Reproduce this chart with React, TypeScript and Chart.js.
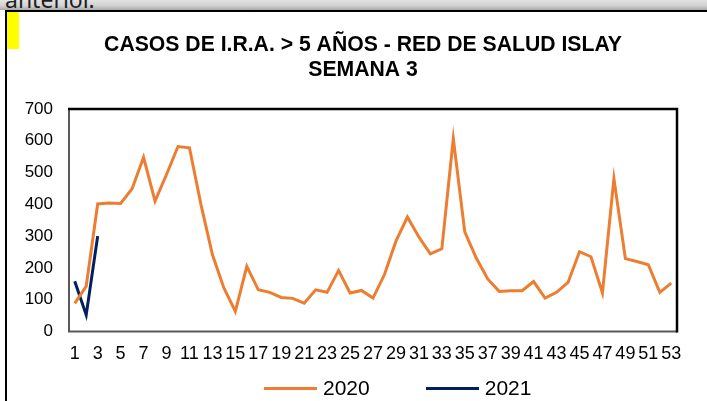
import React, { useEffect, useRef } from 'react';
import { Chart, registerables } from 'chart.js';

Chart.register(...registerables);

const weeks = [
  '1', '2', '3', '4', '5', '6', '7', '8', '9', '10',
  '11', '12', '13', '14', '15', '16', '17', '18', '19', '20',
  '21', '22', '23', '24', '25', '26', '27', '28', '29', '30',
  '31', '32', '33', '34', '35', '36', '37', '38', '39', '40',
  '41', '42', '43', '44', '45', '46', '47', '48', '49', '50',
  '51', '52', '53',
];

const cases2020 = [
  88, 142, 401, 404, 403, 449, 548, 410, 494, 582,
  578, 400, 242, 137, 63, 205, 131, 123, 107, 104,
  89, 131, 123, 192, 121, 129, 105, 179, 284, 360,
  297, 244, 260, 607, 313, 231, 165, 126, 128, 128,
  157, 105, 123, 154, 251, 235, 121, 481, 229, 220,
  210, 123, 152,
];

const cases2021 = [158, 52, 300];

const seriesNames = ['2020', '2021'];
const seriesColors = ['#ED7D31', '#002060'];

const titleLines = ['CASOS DE I.R.A. > 5 AÑOS - RED DE SALUD ISLAY', 'SEMANA 3'];
const yMin = 0;
const yMax = 700;
const yStep = 100;

const FONT = '"Liberation Sans", Arial, sans-serif';

const framePlugin = {
  id: 'plotFrame',
  afterDatasetsDraw(chart: any) {
    const { ctx, chartArea } = chart;
    const { left, right, top, bottom } = chartArea;
    ctx.save();
    ctx.lineWidth = 2;
    ctx.strokeStyle = '#595959';
    ctx.beginPath();
    ctx.moveTo(left, top);
    ctx.lineTo(left, bottom);
    ctx.lineTo(right, bottom);
    ctx.stroke();
    ctx.strokeStyle = '#000000';
    ctx.lineWidth = 2.5;
    ctx.beginPath();
    ctx.moveTo(left - 1, top);
    ctx.lineTo(right, top);
    ctx.lineTo(right, bottom + 1);
    ctx.stroke();
    ctx.restore();
  },
};

export default function App() {
  const canvasRef = useRef<HTMLCanvasElement | null>(null);

  useEffect(() => {
    document.body.style.margin = '0';
    const canvas = canvasRef.current;
    if (!canvas) return;
    const chart = new Chart(canvas, {
      type: 'line',
      data: {
        labels: weeks,
        datasets: [
          {
            label: seriesNames[0],
            data: cases2020,
            borderColor: seriesColors[0],
            backgroundColor: seriesColors[0],
            borderWidth: 3,
            pointRadius: 0,
            tension: 0,
            fill: false,
            yAxisID: 'y',
          },
          {
            label: seriesNames[1],
            data: cases2021,
            borderColor: seriesColors[1],
            backgroundColor: seriesColors[1],
            borderWidth: 3,
            pointRadius: 0,
            tension: 0,
            fill: false,
            yAxisID: 'y',
          },
        ],
      },
      options: {
        animation: false,
        responsive: false,
        devicePixelRatio: 1,
        layout: { padding: { top: 0, left: 20, right: 1, bottom: 24 } },
        plugins: {
          legend: { display: false },
          tooltip: { enabled: false },
          title: {
            display: true,
            text: titleLines,
            color: '#000000',
            font: { family: FONT, size: 21.2, weight: 'bold', lineHeight: 1.18 },
            padding: { top: 33, bottom: 26 },
          },
        },
        scales: {
          x: {
            offset: true,
            grid: { display: false, drawTicks: false },
            border: { display: false },
            ticks: {
              autoSkip: false,
              maxRotation: 0,
              minRotation: 0,
              padding: 12,
              color: '#000000',
              font: { family: FONT, size: 18 },
              callback: (_v: any, i: number) => (i % 2 === 0 ? weeks[i] : ''),
            },
          },
          y: {
            position: 'left',
            min: yMin,
            max: yMax,
            grid: { display: false, drawTicks: false },
            border: { display: false },
            ticks: {
              stepSize: yStep,
              padding: 16,
              color: '#000000',
              font: { family: FONT, size: 17 },
            },
            afterFit: (scale: any) => {
              scale.width = 49;
            },
          },
          yRight: {
            position: 'right',
            display: true,
            grid: { display: false, drawTicks: false },
            border: { display: false },
            ticks: { display: false },
            afterFit: (scale: any) => {
              scale.width = 29;
            },
          },
        },
      },
      plugins: [framePlugin],
    });
    return () => chart.destroy();
  }, []);

  return (
    <div
      style={{
        position: 'fixed',
        left: 0,
        top: 0,
        width: 707,
        height: 401,
        overflow: 'hidden',
        background: '#ffffff',
      }}
    >
      <div
        style={{
          position: 'absolute',
          left: 0,
          top: 0,
          width: 707,
          height: 10,
          background: 'linear-gradient(to bottom, #e2e2e2 0%, #d2d2d2 55%, #a9a9a9 100%)',
          overflow: 'hidden',
        }}
      >
        <div
          style={{
            position: 'absolute',
            left: 5,
            top: -12,
            fontFamily: '"Noto Sans", "Open Sans", sans-serif',
            fontSize: 23,
            lineHeight: 1,
            color: '#1e1e1e',
            whiteSpace: 'nowrap',
          }}
        >
          anterior.
        </div>
      </div>
      <div
        style={{
          position: 'absolute',
          left: 5,
          top: 10,
          width: 800,
          height: 500,
          borderTop: '2px solid #000',
          borderLeft: '2px solid #000',
          background: '#fff',
        }}
      />
      <div
        style={{
          position: 'absolute',
          left: 7,
          top: 12,
          width: 12,
          height: 37,
          background: '#FFFF00',
        }}
      />
      <canvas
        ref={canvasRef}
        width={707}
        height={401}
        style={{ position: 'absolute', left: 0, top: 0, width: 707, height: 401 }}
      />
      <div
        style={{
          position: 'absolute',
          left: 264,
          top: 375,
          display: 'flex',
          alignItems: 'center',
          gap: 56,
          fontFamily: FONT,
          fontSize: 21,
          lineHeight: '26px',
          color: '#000',
        }}
      >
        {seriesNames.map((name, i) => (
          <div key={name} style={{ display: 'flex', alignItems: 'center' }}>
            <span
              style={{
                display: 'inline-block',
                width: 53,
                height: 3,
                background: seriesColors[i],
                marginRight: 6,
              }}
            />
            <span>{name}</span>
          </div>
        ))}
      </div>
    </div>
  );
}
